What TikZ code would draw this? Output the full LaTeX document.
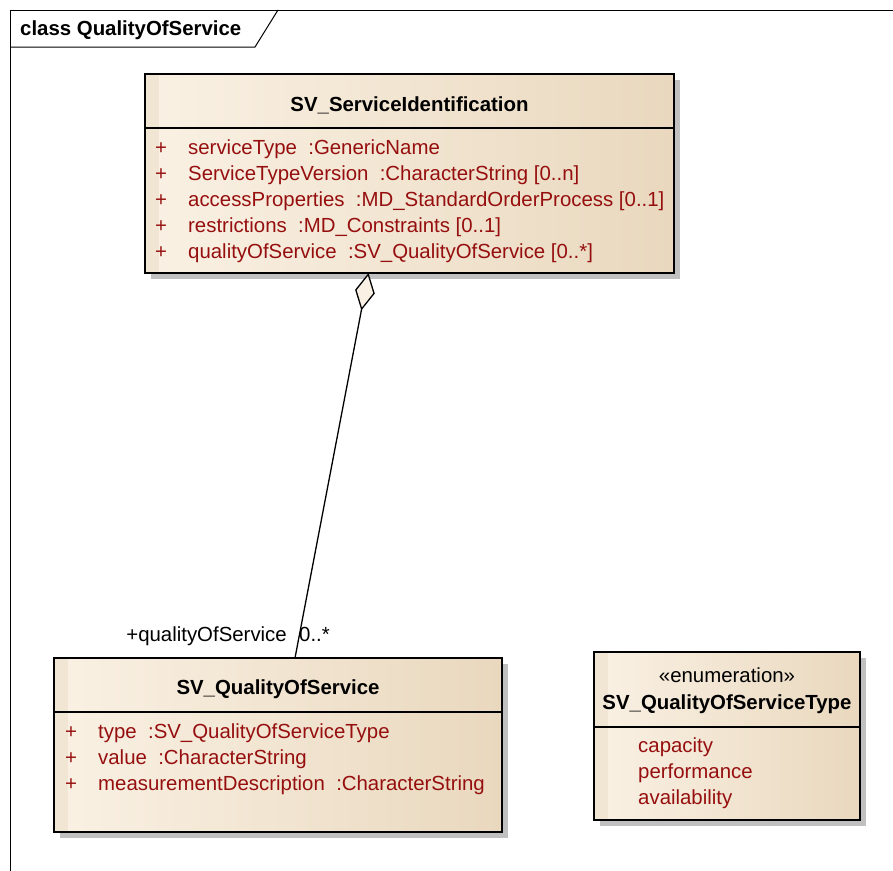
\documentclass[tikz,border=0pt]{standalone}
\usepackage{fontspec}
\setmainfont{Liberation Sans}
\usetikzlibrary{arrows.meta,shadows}
\definecolor{attr}{RGB}{150,15,15}
\definecolor{boxL}{RGB}{250,241,228}
\definecolor{boxR}{RGB}{233,216,190}
\definecolor{boxS}{RGB}{241,229,211}
\definecolor{shad}{RGB}{192,192,192}
\tikzset{
  classbox/.style={draw=black, line width=1.6pt, inner sep=0pt, outer sep=0pt,
    anchor=north west, left color=boxL, right color=boxR,
    path picture={\fill[boxS] (path picture bounding box.north west) rectangle ([xshift=14pt]path picture bounding box.south west);},
    general shadow={fill=shad, shadow xshift=6pt, shadow yshift=-6pt}},
  sep/.style={line width=1.2pt},
  txt/.style={font=\fontsize{20.4pt}{24pt}\selectfont, inner sep=0pt, anchor=base west},
  attrtxt/.style={txt, text=attr},
  titletxt/.style={font=\fontsize{20.4pt}{24pt}\selectfont\bfseries, inner sep=0pt, anchor=base},
  aggr/.style={line width=1.3pt, {Diamond[length=38pt,width=20pt,fill=boxL,line width=1.3pt]}-}
}
\begin{document}
\begin{tikzpicture}[x=1pt,y=-1pt]
\useasboundingbox (0,0) rectangle (893,870);
% frame
\draw[line width=1pt] (10,875) -- (10,10) -- (900,10);
\draw[line width=1pt] (10,47) -- (255,47) -- (278,10);
\node[txt, font=\fontsize{20.4pt}{24pt}\selectfont\bfseries] (frametitle) at (20,35) {class QualityOfService};

% SV_ServiceIdentification
\node[classbox, minimum width=529pt, minimum height=199pt] (si) at (145,74) {};
\draw[sep] (145,128) -- (674,128);
\node[titletxt] (siname) at (409.5,111) {SV\_ServiceIdentification};
\foreach \y/\t [count=\i] in {154/{serviceType \ :GenericName},
  180/{ServiceTypeVersion \ :CharacterString [0..n]},
  206/{accessProperties \ :MD\_StandardOrderProcess [0..1]},
  232/{restrictions \ :MD\_Constraints [0..1]},
  258/{qualityOfService \ :SV\_QualityOfService [0..*]}}{
  \node[attrtxt] (sip\i) at (155,\y) {+};
  \node[attrtxt] (sia\i) at (188,\y) {\t};
}

% SV_QualityOfService
\node[classbox, minimum width=448pt, minimum height=174pt] (qos) at (54,658) {};
\draw[sep] (54,712) -- (502,712);
\node[titletxt] (qosname) at (278,694) {SV\_QualityOfService};
\foreach \y/\t [count=\i] in {738/{type \ :SV\_QualityOfServiceType},
  764/{value \ :CharacterString},
  790/{measurementDescription \ :CharacterString}}{
  \node[attrtxt] (qp\i) at (65,\y) {+};
  \node[attrtxt] (qa\i) at (98,\y) {\t};
}

% SV_QualityOfServiceType
\node[classbox, minimum width=266pt, minimum height=168pt] (qt) at (594,652) {};
\draw[sep] (594,727) -- (860,727);
\node[txt, anchor=base] (qtst) at (727,682) {«enumeration»};
\node[titletxt] (qtname) at (727,709) {SV\_QualityOfServiceType};
\node[attrtxt] (qv1) at (638,752) {capacity};
\node[attrtxt] (qv2) at (638,778) {performance};
\node[attrtxt] (qv3) at (638,804) {availability};

% aggregation
\draw[aggr] ([xshift=223.5pt]si.south west) -- ([xshift=241pt]qos.north west);
\node[txt, anchor=base east] (role) at (287,641) {+qualityOfService};
\node[txt] (mult) at (299,641) {0..*};
\end{tikzpicture}
\end{document}
